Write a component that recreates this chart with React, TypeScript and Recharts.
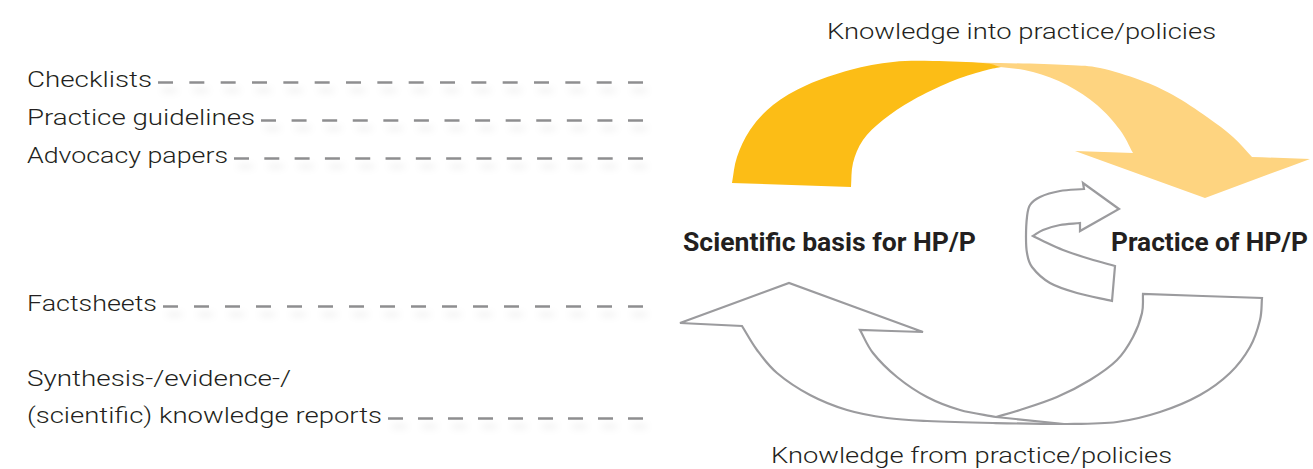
import { ScatterChart, Scatter, XAxis, YAxis } from 'recharts';

const W = 1313;
const H = 469;

type Pt = { x: number; y: number; s: number };
// [x, y, sharp?] -> point; third value 1 marks a sharp corner of the outline
const pts = (a: number[][]): Pt[] => a.map(([x, y, s]) => ({ x, y, s: s || 0 }));

// arrow outlines
const lightArrow = pts([
  [930, 62, 1], [1000, 63], [1067, 65], [1100, 68], [1140, 80], [1173, 95], [1207, 117], [1233, 137],
  [1252, 157, 1], [1310, 159, 1], [1205, 198, 1], [1075, 151, 1], [1133, 153, 1],
  [1120, 130], [1097, 105], [1067, 85], [1033, 72], [1000, 67], [965, 64, 1],
]);
const darkArrow = pts([
  [732, 183, 1], [737, 157], [750, 130], [773, 105], [807, 85], [850, 70], [893, 62], [933, 61], [983, 63],
  [1001, 67, 1], [983, 71], [950, 82], [913, 100], [883, 120], [863, 140], [853, 163], [851, 187, 1],
]);
const loopArrow = pts([
  [1119, 209, 1], [1083, 183, 1], [1084, 189, 1], [1060, 191], [1040, 197], [1030, 205], [1027, 217],
  [1026, 237], [1027, 253], [1032, 267], [1050, 283], [1077, 293], [1112, 301, 1], [1115, 266, 1],
  [1090, 259], [1063, 250], [1043, 241], [1033, 236, 1], [1043, 230], [1060, 225], [1080, 223, 1], [1080, 231, 1],
]);
const returnArrow = pts([
  [680, 323, 1], [789, 283, 1], [923, 332, 1], [860, 330, 1], [873, 353], [897, 377], [927, 397], [960, 410],
  [996, 417, 1], [1020, 410], [1057, 397], [1090, 380], [1117, 360], [1133, 337], [1142, 313], [1143, 294, 1],
  [1262, 298, 1], [1260, 320], [1250, 347], [1230, 373], [1200, 395], [1160, 412], [1117, 422], [1067, 424],
  [993, 423], [927, 421], [887, 418], [847, 410], [810, 395], [777, 373], [757, 350], [742, 326, 1],
]);
const returnSliver = pts([[996, 417, 1], [1064, 424, 1]]);

// left-hand product list
const products = ['Checklists', 'Practice guidelines', 'Advocacy papers', 'Factsheets', '(scientific) knowledge reports'];
const productRows = [87, 125, 163, 311, 423];
const productWidths = [125, 228, 201, 130, 355];
const leaderEnd = 643;

const captions = [
  { t: 'Synthesis-/evidence-/', x: 27, y: 386, w: 264, bold: false },
  { t: 'Knowledge into practice/policies', x: 827, y: 39, w: 389, bold: false },
  { t: 'Knowledge from practice/policies', x: 771, y: 463, w: 401, bold: false },
  { t: 'Scientific basis for HP/P', x: 683, y: 251, w: 293, bold: true },
  { t: 'Practice of HP/P', x: 1111, y: 251, w: 197, bold: true },
];

const labelData = [
  ...products.map((t, i) => ({ t, x: 27, y: productRows[i], w: productWidths[i], bold: false })),
  ...captions,
];

function smoothPath(points: { x: number; y: number }[], sharp: number[], closed: boolean) {
  const n = points.length;
  if (n < 2) return '';
  const at = (i: number) => points[(i + n) % n];
  const isSharp = (i: number) => {
    if (!closed && (i <= 0 || i >= n - 1)) return true;
    return sharp[(i + n) % n] === 1;
  };
  let d = `M${points[0].x},${points[0].y}`;
  const segs = closed ? n : n - 1;
  for (let i = 0; i < segs; i++) {
    const p0 = at(i);
    const p1 = at(i + 1);
    let c1x, c1y, c2x, c2y;
    if (isSharp(i)) {
      c1x = p0.x + (p1.x - p0.x) / 3;
      c1y = p0.y + (p1.y - p0.y) / 3;
    } else {
      const pr = at(i - 1);
      c1x = p0.x + (p1.x - pr.x) / 6;
      c1y = p0.y + (p1.y - pr.y) / 6;
    }
    if (isSharp(i + 1)) {
      c2x = p1.x - (p1.x - p0.x) / 3;
      c2y = p1.y - (p1.y - p0.y) / 3;
    } else {
      const nx = at(i + 2);
      c2x = p1.x - (nx.x - p0.x) / 6;
      c2y = p1.y - (nx.y - p0.y) / 6;
    }
    d += `C${c1x},${c1y} ${c2x},${c2y} ${p1.x},${p1.y}`;
  }
  return closed ? d + 'Z' : d;
}

const outline = (data: Pt[], closed: boolean, style: any) => (props: any) =>
  <path d={smoothPath(props.points, data.map((p) => p.s), closed)} {...style} />;

const noDot = () => <g />;

const grey = '#9b9b9e';

// dashed leader: whole dashes at both ends, gap stretched a little to fit
const DASH = 15;
const GAP = 16.33;
const leaderLine = (p: any) => {
  const [a, b] = p.points;
  const len = Math.abs(b.x - a.x);
  const n = Math.max(2, Math.round((len + GAP) / (DASH + GAP)));
  const gap = (len - n * DASH) / (n - 1);
  return (
    <path
      d={`M${a.x},${a.y}L${b.x},${b.y}`}
      stroke="#8e8e90"
      strokeWidth={2.7}
      strokeDasharray={`${DASH} ${gap}`}
      fill="none"
      filter="url(#leadShadow)"
    />
  );
};

export default function App() {
  const leaders = products.map((_, i) => [
    { x: 27 + productWidths[i] + 6, y: productRows[i] - 4.5 },
    { x: leaderEnd, y: productRows[i] - 4.5 },
  ]);

  return (
    <div style={{ position: 'absolute', left: 0, top: 0, width: W, height: H, background: '#fff' }}>
      <ScatterChart width={W} height={H} margin={{ top: 0, right: 0, bottom: 0, left: 0 }}>
        <defs>
          <filter id="leadShadow" filterUnits="userSpaceOnUse" x={0} y={0} width={W} height={H}>
            <feDropShadow dx="4" dy="8" stdDeviation="3.5" floodColor="#000" floodOpacity="0.1" />
          </filter>
        </defs>
        <XAxis type="number" dataKey="x" domain={[0, W]} allowDataOverflow hide />
        <YAxis type="number" dataKey="y" domain={[0, H]} allowDataOverflow reversed hide />

        {leaders.map((d, i) => (
          <Scatter key={`lead-${i}`} data={d} shape={noDot} line={leaderLine} isAnimationActive={false} />
        ))}

        <Scatter data={lightArrow} shape={noDot} line={outline(lightArrow, true, { fill: '#fed480', stroke: 'none' })} isAnimationActive={false} />
        <Scatter data={darkArrow} shape={noDot} line={outline(darkArrow, true, { fill: '#fcbd16', stroke: 'none' })} isAnimationActive={false} />
        <Scatter data={loopArrow} shape={noDot} line={outline(loopArrow, true, { fill: '#fff', stroke: grey, strokeWidth: 2.2, strokeLinejoin: 'miter' })} isAnimationActive={false} />
        <Scatter data={returnArrow} shape={noDot} line={outline(returnArrow, true, { fill: '#fff', stroke: grey, strokeWidth: 2.2, strokeLinejoin: 'miter' })} isAnimationActive={false} />
        <Scatter data={returnSliver} shape={noDot} line={outline(returnSliver, false, { fill: 'none', stroke: grey, strokeWidth: 2.2 })} isAnimationActive={false} />

        <Scatter
          data={labelData}
          isAnimationActive={false}
          shape={(p: any) => (
            <text
              x={p.cx}
              y={p.cy}
              fontFamily="Roboto, sans-serif"
              fontSize={p.payload.bold ? 25 : 22}
              fontWeight={p.payload.bold ? 700 : 300}
              fill="#231f20"
              textLength={p.payload.w}
              lengthAdjust="spacingAndGlyphs"
            >
              {p.payload.t}
            </text>
          )}
        />
      </ScatterChart>
    </div>
  );
}
